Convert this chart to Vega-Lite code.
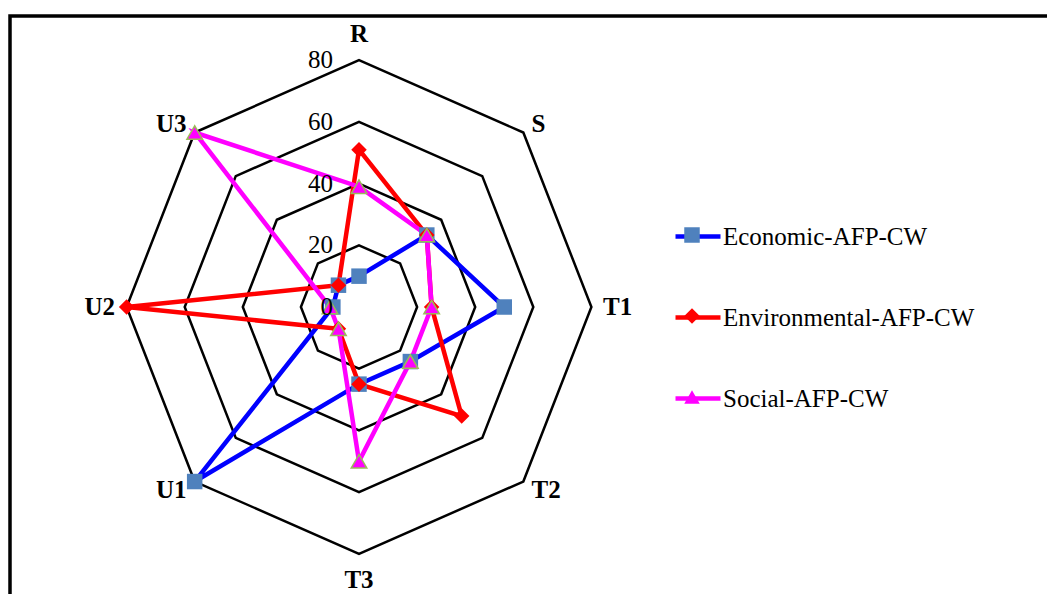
{
  "$schema": "https://vega.github.io/schema/vega-lite/v6.json",
  "width": 1047,
  "height": 594,
  "autosize": "none",
  "padding": {"left": 10, "top": 16, "right": -10, "bottom": -16},
  "background": "white",
  "config": {
    "view": {"stroke": "black", "strokeWidth": 3.5},
    "font": "Liberation Serif",
    "legend": {"labelFont": "Liberation Serif", "labelFontSize": 25}
  },
  "datasets": {
    "scores": [
      {"series": "Economic-AFP-CW", "axis": "R", "value": 10},
      {"series": "Economic-AFP-CW", "axis": "S", "value": 33},
      {"series": "Economic-AFP-CW", "axis": "T1", "value": 50},
      {"series": "Economic-AFP-CW", "axis": "T2", "value": 25},
      {"series": "Economic-AFP-CW", "axis": "T3", "value": 25},
      {"series": "Economic-AFP-CW", "axis": "U1", "value": 80},
      {"series": "Economic-AFP-CW", "axis": "U2", "value": 9},
      {"series": "Economic-AFP-CW", "axis": "U3", "value": 10},
      {"series": "Environmental-AFP-CW", "axis": "R", "value": 51},
      {"series": "Environmental-AFP-CW", "axis": "S", "value": 33},
      {"series": "Environmental-AFP-CW", "axis": "T1", "value": 25},
      {"series": "Environmental-AFP-CW", "axis": "T2", "value": 50},
      {"series": "Environmental-AFP-CW", "axis": "T3", "value": 25},
      {"series": "Environmental-AFP-CW", "axis": "U1", "value": 10},
      {"series": "Environmental-AFP-CW", "axis": "U2", "value": 80},
      {"series": "Environmental-AFP-CW", "axis": "U3", "value": 10},
      {"series": "Social-AFP-CW", "axis": "R", "value": 39},
      {"series": "Social-AFP-CW", "axis": "S", "value": 33},
      {"series": "Social-AFP-CW", "axis": "T1", "value": 25},
      {"series": "Social-AFP-CW", "axis": "T2", "value": 25},
      {"series": "Social-AFP-CW", "axis": "T3", "value": 50},
      {"series": "Social-AFP-CW", "axis": "U1", "value": 10},
      {"series": "Social-AFP-CW", "axis": "U2", "value": 10},
      {"series": "Social-AFP-CW", "axis": "U3", "value": 80}
    ],
    "grid": [
      {"value": 20, "axis": "R"}, {"value": 20, "axis": "S"}, {"value": 20, "axis": "T1"}, {"value": 20, "axis": "T2"},
      {"value": 20, "axis": "T3"}, {"value": 20, "axis": "U1"}, {"value": 20, "axis": "U2"}, {"value": 20, "axis": "U3"},
      {"value": 40, "axis": "R"}, {"value": 40, "axis": "S"}, {"value": 40, "axis": "T1"}, {"value": 40, "axis": "T2"},
      {"value": 40, "axis": "T3"}, {"value": 40, "axis": "U1"}, {"value": 40, "axis": "U2"}, {"value": 40, "axis": "U3"},
      {"value": 60, "axis": "R"}, {"value": 60, "axis": "S"}, {"value": 60, "axis": "T1"}, {"value": 60, "axis": "T2"},
      {"value": 60, "axis": "T3"}, {"value": 60, "axis": "U1"}, {"value": 60, "axis": "U2"}, {"value": 60, "axis": "U3"},
      {"value": 80, "axis": "R"}, {"value": 80, "axis": "S"}, {"value": 80, "axis": "T1"}, {"value": 80, "axis": "T2"},
      {"value": 80, "axis": "T3"}, {"value": 80, "axis": "U1"}, {"value": 80, "axis": "U2"}, {"value": 80, "axis": "U3"}
    ],
    "rings": [{"ring": 0}, {"ring": 20}, {"ring": 40}, {"ring": 60}, {"ring": 80}],
    "axes": [{"axis": "R"}, {"axis": "S"}, {"axis": "T1"}, {"axis": "T2"}, {"axis": "T3"}, {"axis": "U1"}, {"axis": "U2"}, {"axis": "U3"}]
  },
  "encoding": {
    "x": {"field": "px", "type": "quantitative", "scale": {"domain": [-120.14, 240.27], "nice": false, "zero": false}, "axis": null},
    "y": {"field": "py", "type": "quantitative", "scale": {"domain": [-98.21, 94.33], "nice": false, "zero": false}, "axis": null}
  },
  "layer": [
    {
      "data": {"name": "grid"},
      "transform": [
        {"calculate": "indexof(['R','S','T1','T2','T3','U1','U2','U3'], datum.axis)", "as": "idx"},
        {"calculate": "datum.value * sin(datum.idx * PI / 4)", "as": "px"},
        {"calculate": "datum.value * cos(datum.idx * PI / 4)", "as": "py"}
      ],
      "mark": {"type": "line", "interpolate": "linear-closed", "color": "black", "strokeWidth": 2.5},
      "encoding": {
        "detail": {"field": "value", "type": "nominal"},
        "order": {"field": "idx", "type": "quantitative"}
      }
    },
    {
      "data": {"name": "scores"},
      "transform": [
        {"calculate": "indexof(['R','S','T1','T2','T3','U1','U2','U3'], datum.axis)", "as": "idx"},
        {"calculate": "datum.value * sin(datum.idx * PI / 4)", "as": "px"},
        {"calculate": "datum.value * cos(datum.idx * PI / 4)", "as": "py"}
      ],
      "mark": {"type": "line", "interpolate": "linear-closed", "strokeWidth": 4.5},
      "encoding": {
        "stroke": {
          "field": "series", "type": "nominal",
          "scale": {"domain": ["Economic-AFP-CW", "Environmental-AFP-CW", "Social-AFP-CW"], "range": ["#0000FF", "#FF0000", "#FF00FF"]},
          "legend": {"orient": "none", "legendX": 663, "legendY": 195.5, "title": null, "symbolType": "stroke", "symbolSize": 2025, "symbolStrokeWidth": 4.5, "labelFont": "Liberation Serif", "labelFontSize": 25, "labelColor": "black", "labelOffset": 0, "rowPadding": 43, "padding": 0, "labelLimit": 500}
        },
        "order": {"field": "idx", "type": "quantitative"}
      }
    },
    {
      "data": {"name": "scores"},
      "transform": [
        {"calculate": "indexof(['R','S','T1','T2','T3','U1','U2','U3'], datum.axis)", "as": "idx"},
        {"calculate": "datum.value * sin(datum.idx * PI / 4)", "as": "px"},
        {"calculate": "datum.value * cos(datum.idx * PI / 4)", "as": "py"},
        {"calculate": "datum.series", "as": "marker"}
      ],
      "mark": {"type": "point", "filled": true, "opacity": 1, "size": 240, "strokeWidth": 1.5},
      "encoding": {
        "fill": {
          "field": "marker", "type": "nominal",
          "scale": {"range": ["#4F81BD", "#FF0000", "#FF00FF"]},
          "legend": {"orient": "none", "legendX": 674, "legendY": 211, "title": null, "symbolSize": 240, "symbolStrokeWidth": 0, "symbolOpacity": 1, "labelExpr": "''", "labelFontSize": 1, "labelOffset": 0, "rowPadding": 65, "padding": 0}
        },
        "shape": {
          "field": "marker", "type": "nominal",
          "scale": {"range": ["square", "diamond", "triangle-up"]},
          "legend": {"orient": "none", "legendX": 674, "legendY": 211, "title": null, "symbolSize": 240, "symbolStrokeWidth": 0, "symbolOpacity": 1, "labelExpr": "''", "labelFontSize": 1, "labelOffset": 0, "rowPadding": 65, "padding": 0}
        },
        "stroke": {"condition": {"test": "datum.series === 'Social-AFP-CW'", "value": "#9BBB59"}, "value": "transparent"}
      }
    },
    {
      "data": {"name": "rings"},
      "transform": [
        {"calculate": "0", "as": "px"},
        {"calculate": "datum.ring", "as": "py"}
      ],
      "mark": {"type": "text", "align": "right", "baseline": "middle", "dx": -26, "font": "Liberation Serif", "fontSize": 25, "color": "black"},
      "encoding": {"text": {"field": "ring", "type": "quantitative"}}
    },
    {
      "data": {"name": "axes"},
      "transform": [
        {"filter": "indexof(['S','T1','T2'], datum.axis) >= 0"},
        {"calculate": "indexof(['R','S','T1','T2','T3','U1','U2','U3'], datum.axis)", "as": "idx"},
        {"calculate": "84 * sin(datum.idx * PI / 4)", "as": "px"},
        {"calculate": "84 * cos(datum.idx * PI / 4)", "as": "py"}
      ],
      "mark": {"type": "text", "align": "left", "baseline": "middle", "font": "Liberation Serif", "fontWeight": "bold", "fontSize": 25, "color": "black"},
      "encoding": {"text": {"field": "axis", "type": "nominal"}}
    },
    {
      "data": {"name": "axes"},
      "transform": [
        {"filter": "indexof(['U1','U2','U3'], datum.axis) >= 0"},
        {"calculate": "indexof(['R','S','T1','T2','T3','U1','U2','U3'], datum.axis)", "as": "idx"},
        {"calculate": "84 * sin(datum.idx * PI / 4)", "as": "px"},
        {"calculate": "84 * cos(datum.idx * PI / 4)", "as": "py"}
      ],
      "mark": {"type": "text", "align": "right", "baseline": "middle", "font": "Liberation Serif", "fontWeight": "bold", "fontSize": 25, "color": "black"},
      "encoding": {"text": {"field": "axis", "type": "nominal"}}
    },
    {
      "data": {"name": "axes"},
      "transform": [
        {"filter": "indexof(['R','T3'], datum.axis) >= 0"},
        {"calculate": "indexof(['R','S','T1','T2','T3','U1','U2','U3'], datum.axis)", "as": "idx"},
        {"calculate": "88.5 * sin(datum.idx * PI / 4)", "as": "px"},
        {"calculate": "88.5 * cos(datum.idx * PI / 4)", "as": "py"}
      ],
      "mark": {"type": "text", "align": "center", "baseline": "middle", "font": "Liberation Serif", "fontWeight": "bold", "fontSize": 25, "color": "black"},
      "encoding": {"text": {"field": "axis", "type": "nominal"}}
    }
  ]
}
